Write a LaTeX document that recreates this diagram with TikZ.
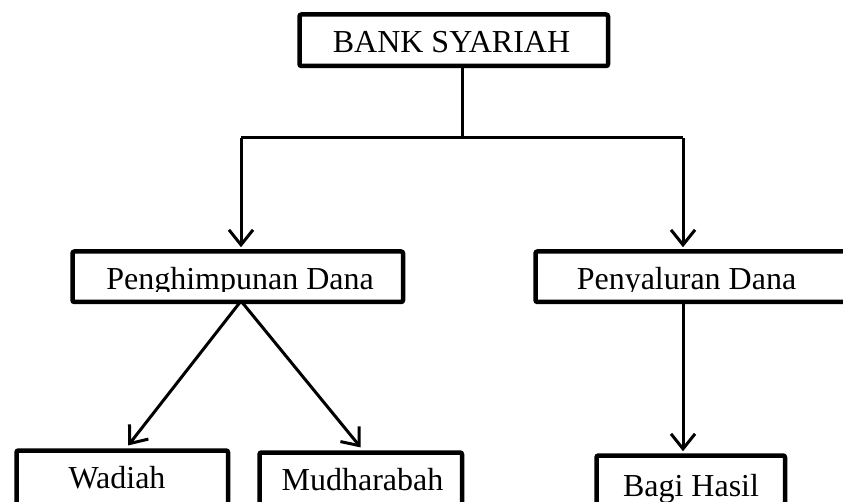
\documentclass[tikz,border=0pt]{standalone}
\usepackage{fontspec}
\setmainfont{Liberation Serif}
\usetikzlibrary{arrows.meta}
\tikzset{
  box/.style={draw, line width=4.5pt, fill=white, rounded corners=2pt, inner sep=0pt, anchor=north west},
  txt/.style={inner sep=0pt, anchor=base, font=\fontsize{32}{38}\selectfont},
  conn/.style={line width=3pt},
  arr/.style={conn, -{Straight Barb[length=15pt,width=24pt]}, shorten >=2pt}
}
\begin{document}
\begin{tikzpicture}[x=1pt,y=1pt]
\clip (0,0) rectangle (843,-502);
\fill[white] (0,0) rectangle (843,-502);
% boxes
\node[box, minimum width=308.5pt, minimum height=51.5pt] (bank) at (297.25,-12.25) {};
\node[box, minimum width=330.5pt, minimum height=50.5pt] (ph) at (70.25,-249.25) {};
\node[box, minimum width=366.75pt, minimum height=50.5pt] (py) at (533.25,-249.25) {};
\node[box, minimum width=211.5pt, minimum height=91.75pt] (wa) at (14.25,-448.25) {};
\node[box, minimum width=202.5pt, minimum height=89.75pt] (mu) at (257.25,-450.25) {};
\node[box, minimum width=188.5pt, minimum height=86.75pt] (bh) at (594.25,-453.25) {};
% texts, clipped as in the reference
\begin{scope}\clip (bank.south west) rectangle (bank.north east);
  \node[txt] (bankt) at (451.5,-53) {BANK SYARIAH};\end{scope}
\begin{scope}\clip (ph.north west) rectangle ([yshift=-42.25pt]ph.north east);
  \node[txt] (pht) at (240,-290) {Penghimpunan Dana};\end{scope}
\begin{scope}\clip (py.north west) rectangle ([yshift=-42.25pt]py.north east);
  \node[txt] (pyt) at (686.5,-290) {Penyaluran Dana};\end{scope}
\begin{scope}\clip (wa.south west) rectangle (wa.north east);
  \node[txt] (wat) at (117,-488) {Wadiah};\end{scope}
\begin{scope}\clip (mu.south west) rectangle (mu.north east);
  \node[txt] (mut) at (362.5,-490) {Mudharabah};\end{scope}
\begin{scope}\clip (bh.south west) rectangle (bh.north east);
  \node[txt] (bht) at (691,-496) {Bagi Hasil};\end{scope}
% junction points
\coordinate (j) at (462,-138);
\coordinate (jl) at (241,-138);
\coordinate (jr) at (683,-138);
\coordinate (phb) at (241,-301);
\coordinate (pyb) at (683,-301);
\coordinate (wain) at (127,-447);
\coordinate (muin) at (362,-449);
% connectors
\draw[conn] (bank.south -| j) -- (j);
\draw[conn] (jl) -- (jr);
\draw[arr] (jl) -- (jl |- ph.north);
\draw[arr] (jr) -- (jr |- py.north);
\draw[arr] (phb) -- (wain);
\draw[arr] (phb) -- (muin);
\draw[arr] (pyb) -- (pyb |- bh.north);
\end{tikzpicture}
\end{document}
